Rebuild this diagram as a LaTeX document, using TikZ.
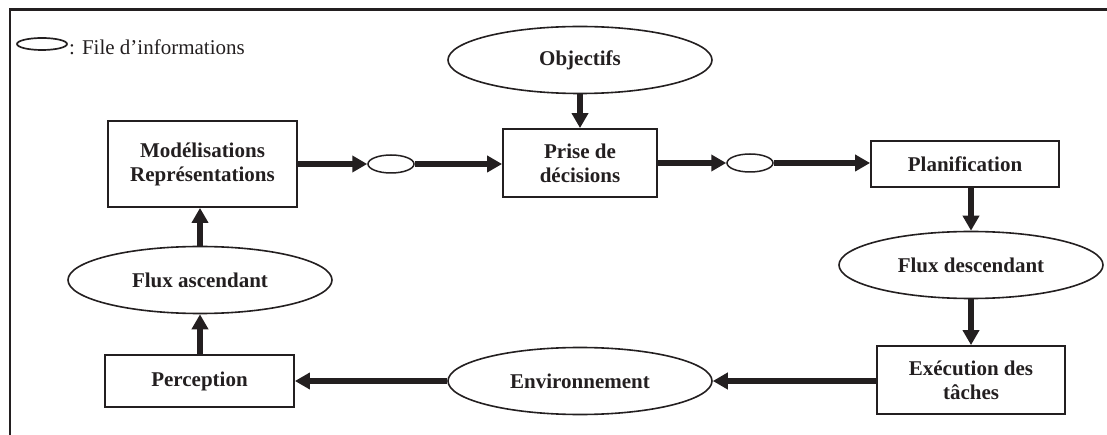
\documentclass[tikz,border=0pt]{standalone}
\usepackage{fontspec}
\setmainfont{Liberation Serif}
\usetikzlibrary{shapes.geometric,arrows.meta}
\definecolor{ink}{HTML}{231F20}
\begin{document}
\begin{tikzpicture}[x=1pt,y=-1pt,
  every node/.style={font=\fontsize{21}{24}\selectfont\bfseries, text=ink},
  box/.style={draw=ink, line width=1.8pt, rectangle, inner sep=0pt, align=center},
  flow/.style={draw=ink, line width=1.6pt, ellipse, inner sep=0pt,
               minimum width=264pt, minimum height=67pt},
  queue/.style={draw=ink, line width=1.5pt, ellipse, inner sep=0pt,
                minimum width=46pt, minimum height=18pt},
  link/.style={draw=ink, line width=6pt, -{Triangle[length=15pt,width=16pt]}}
]
\useasboundingbox (0,0) rectangle (1107,435);

% frame
\draw[ink, line width=2.4pt] (10,435) -- (10,9.5) -- (1107,9.5);

% key
\node[queue, line width=1.7pt, minimum width=50pt, minimum height=12pt] (key) at (42,44) {};
\node[anchor=base west, inner sep=0pt, font=\fontsize{21}{24}\selectfont]
  (keytext) at (69,55) {: File d’informations};

% processing steps
\node[box, minimum width=189pt, minimum height=86pt] (modl) at (202.5,164)
  {Modélisations\\Représentations};
\node[box, minimum width=154pt, minimum height=68pt] (prise) at (580,163)
  {Prise de\\décisions};
\node[box, minimum width=188pt, minimum height=46pt] (plan) at (965,164)
  {Planification};
\node[box, minimum width=188pt, minimum height=68pt] (exec) at (971,380)
  {Exécution des\\tâches};
\node[box, minimum width=189pt, minimum height=52pt] (perc) at (199.5,381)
  {Perception};

% information flows
\node[flow] (obj) at (580,60) {Objectifs};
\node[flow] (fdesc) at (971,265) {Flux descendant};
\node[flow] (env) at (580,381) {Environnement};
\node[flow] (fasc) at (200,280) {Flux ascendant};

% queues
\node[queue] (q1) at (391,164) {};
\node[queue] (q2) at (750,163) {};

% connections
\draw[link] (obj.south) -- (prise.north);
\draw[link] (modl.east |- q1.west) -- (q1.west);
\draw[link] (q1.east) -- (prise.west |- q1.east);
\draw[link] (prise.east |- q2.west) -- (q2.west);
\draw[link] (q2.east) -- (plan.west |- q2.east);
\draw[link] (fdesc.north |- plan.south) -- (fdesc.north);
\draw[link] (fdesc.south) -- (exec.north -| fdesc.south);
\draw[link] (exec.west |- env.east) -- (env.east);
\draw[link] (env.west) -- (perc.east |- env.west);
\draw[link] (perc.north -| fasc.south) -- (fasc.south);
\draw[link] (fasc.north) -- (modl.south -| fasc.north);
\end{tikzpicture}
\end{document}
